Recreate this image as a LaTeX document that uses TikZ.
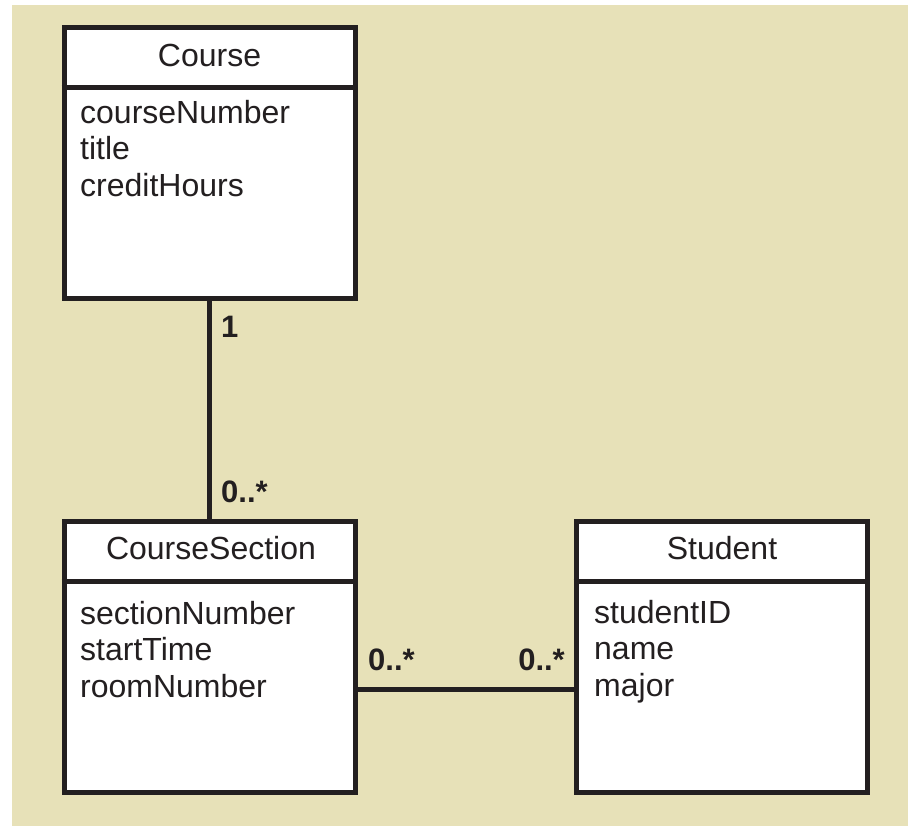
\documentclass[tikz,border=0pt]{standalone}
\usepackage{fontspec}
\setmainfont{Liberation Sans}
\usepackage{tikz}
\usetikzlibrary{calc}
\definecolor{ink}{HTML}{231F20}
\definecolor{paper}{HTML}{E7E1B8}
\tikzset{
  classbox/.style={draw=ink, fill=white, line width=5pt, minimum width=291pt, minimum height=271pt, inner sep=0pt},
  rule/.style={draw=ink, line width=5pt},
  assoc/.style={draw=ink, line width=5pt},
  cname/.style={text=ink, font=\fontsize{32}{37}\selectfont, anchor=base, inner sep=0pt},
  attr/.style={text=ink, font=\fontsize{32}{36.5}\selectfont, align=left, anchor=base west, inner sep=0pt},
  mult/.style={text=ink, font=\fontsize{31}{36}\bfseries\selectfont, inner sep=0pt},
}

\begin{document}
\begin{tikzpicture}[x=1pt, y=-1pt]
  \useasboundingbox (0,0) rectangle (908,826);
  \fill[paper] (12,5) rectangle (908,826);

  % classes
  \node[classbox] (course)  at (209.5,163.5) {};
  \node[classbox] (section) at (209.5,657) {};
  \node[classbox] (student) at (721.5,657) {};
  \draw[rule] ([yshift=-62pt]course.north west)  -- ([yshift=-62pt]course.north east);
  \draw[rule] ([yshift=-62pt]section.north west) -- ([yshift=-62pt]section.north east);
  \draw[rule] ([yshift=-62pt]student.north west) -- ([yshift=-62pt]student.north east);

  \node[cname] (coursename)  at (209.5,66.5) {Course};
  \node[cname] (sectionname) at (211,559) {CourseSection};
  \node[cname] (studentname) at (722,559) {Student};

  % attribute lists (anchored at last baseline)
  \node[attr] (courseattr)  at (80,196.5) {courseNumber\\title\\creditHours};
  \node[attr] (sectionattr) at (80,697)   {sectionNumber\\startTime\\roomNumber};
  \node[attr] (studentattr) at (594,696)  {studentID\\name\\major};

  % associations
  \draw[assoc] (course.south) -- (section.north);
  \draw[assoc] ([yshift=-32pt]section.east) -- ([yshift=-32pt]student.west);

  \node[mult, anchor=base west] (one)     at (221,338) {1};
  \node[mult, anchor=base west] (manysec) at (221,502) {0..*};
  \node[mult, anchor=base west] (manyl)   at (368,670) {0..*};
  \node[mult, anchor=base east] (manyr)   at (565,670) {0..*};
\end{tikzpicture}
\end{document}
